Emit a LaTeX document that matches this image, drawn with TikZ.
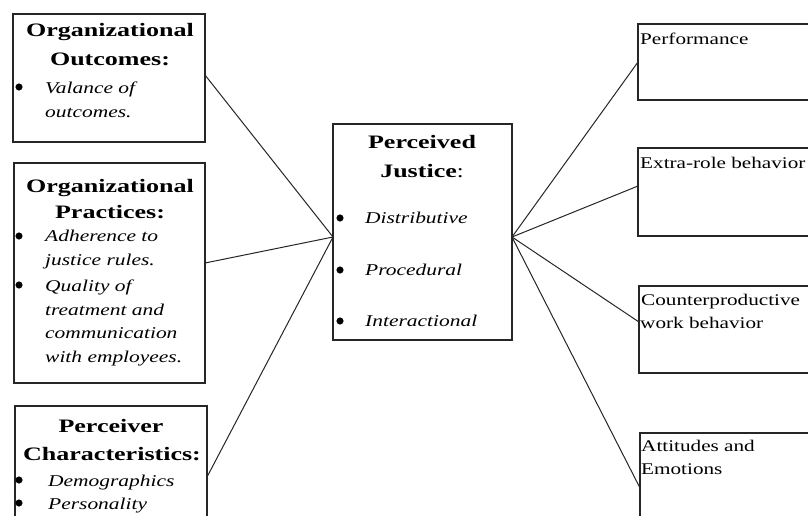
\documentclass[tikz,border=0pt]{standalone}
\usepackage{fontspec}
\setmainfont{Liberation Serif}[FakeStretch=1.3]
\newfontfamily\ttlfont{Liberation Serif}[FakeStretch=1.37]
\begin{document}
\begin{tikzpicture}[x=1pt,y=-1pt,
  box/.style={draw=black!85,line width=1.1pt,anchor=north west,inner sep=0pt,outer sep=0pt},
  conn/.style={draw=black!85,line width=1pt},
  ttl/.style={font=\ttlfont\fontsize{19}{22}\selectfont\bfseries,anchor=base,inner sep=0pt},
  itm/.style={font=\fontsize{16.5}{20}\selectfont\itshape,anchor=base west,inner sep=0pt},
  rt/.style={font=\fontsize{16.3}{20}\selectfont,anchor=base west,inner sep=0pt},
  bul/.style={circle,draw=black,fill=black,line width=0.5pt,inner sep=0pt,minimum size=6.5pt}]
\useasboundingbox (0,0) rectangle (808,515);
\fill[white] (0,0) rectangle (808,515);

% left boxes
\node[box,minimum width=192pt,minimum height=128pt] (b1) at (13,14) {};
\node[box,minimum width=191pt,minimum height=220pt] (b2) at (14,163) {};
\node[box,minimum width=192pt,minimum height=130pt] (b3) at (15,406) {};
% centre box
\node[box,minimum width=179pt,minimum height=216pt] (pj) at (333,124) {};
% right boxes
\node[box,minimum width=200pt,minimum height=76pt] (r1) at (638,24) {};
\node[box,minimum width=200pt,minimum height=88pt] (r2) at (638,148) {};
\node[box,minimum width=200pt,minimum height=87pt] (r3) at (639,286) {};
\node[box,minimum width=200pt,minimum height=110pt] (r4) at (640,433) {};

% box 1 text
\node[ttl] (t1a) at (110,36) {Organizational};
\node[ttl] (t1b) at (110,65) {Outcomes:};
\node[bul] (d1a) at (19,87) {};
\node[itm] (i1a) at (45,93) {Valance of};
\node[itm] (i1b) at (45,117) {outcomes.};

% box 2 text
\node[ttl] (t2a) at (110,192) {Organizational};
\node[ttl] (t2b) at (110,218) {Practices:};
\node[bul] (d2a) at (19,236) {};
\node[itm] (i2a) at (45,241) {Adherence to};
\node[itm] (i2b) at (45,265) {justice rules.};
\node[bul] (d2b) at (19,285) {};
\node[itm] (i2c) at (45,291) {Quality of};
\node[itm] (i2d) at (45,315) {treatment and};
\node[itm] (i2e) at (45,338) {communication};
\node[itm] (i2f) at (45,362) {with employees.};

% box 3 text
\node[ttl] (t3a) at (111,432) {Perceiver};
\node[ttl] (t3b) at (112,460) {Characteristics:};
\node[bul] (d3a) at (19,480) {};
\node[itm] (i3a) at (48,486) {Demographics};
\node[bul] (d3b) at (19,503) {};
\node[itm] (i3b) at (48,509) {Personality};

% centre text
\node[ttl] (tpa) at (422,148) {Perceived};
\node[ttl] (tpb) at (422,177) {Justice\normalfont:};
\node[bul] (dpa) at (340,218) {};
\node[itm] (ipa) at (365,223) {Distributive};
\node[bul] (dpb) at (340,270) {};
\node[itm] (ipb) at (365,275) {Procedural};
\node[bul] (dpc) at (340,321) {};
\node[itm] (ipc) at (365,326) {Interactional};

% right text
\node[rt] (ra) at (640,44) {Performance};
\node[rt] (rb) at (640,168) {Extra-role behavior};
\node[rt] (rc) at (641,305) {Counterproductive};
\node[rt] (rd) at (640,328) {work behavior};
\node[rt] (re) at (641,451) {Attitudes and};
\node[rt] (rf) at (641,474) {Emotions};

% junction points
\coordinate (e3) at (207,477);
\coordinate (e4) at (640,488);

% connectors
\draw[conn] ([yshift=3pt]b1.east) -- ([yshift=-5pt]pj.west);
\draw[conn] ([yshift=10pt]b2.east) -- ([yshift=-5pt]pj.west);
\draw[conn] (b3.east |- e3) -- ([yshift=-5pt]pj.west);
\draw[conn] ([yshift=-5pt]pj.east) -- (r1.west);
\draw[conn] ([yshift=-5pt]pj.east) -- ([yshift=6pt]r2.west);
\draw[conn] ([yshift=-5pt]pj.east) -- ([yshift=7.5pt]r3.west);
\draw[conn] ([yshift=-5pt]pj.east) -- (r4.west |- e4);
\end{tikzpicture}
\end{document}
